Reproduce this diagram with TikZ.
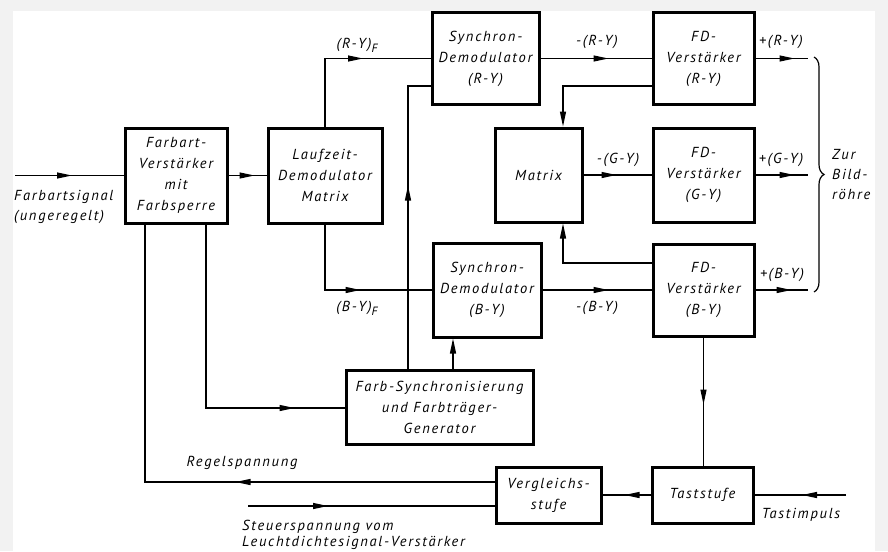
\documentclass[tikz,border=0pt]{standalone}
\usepackage{fontspec}
\setmainfont{PT Sans}[LetterSpace=12]
\usetikzlibrary{arrows.meta,decorations.markings,decorations.pathreplacing,calc}
\begin{document}
\begin{tikzpicture}[x=1pt,y=-1pt,
 blk/.style={draw,line width=3pt,inner sep=0pt,align=center,font=\itshape\fontsize{14.5}{21}\selectfont},
 lbl/.style={font=\itshape\fontsize{14.5}{18}\selectfont,inner sep=0pt},
 conn/.style={line width=1.2pt},
 tip/.style={-{Triangle[length=15pt,width=6pt]}},
 arr/.style={postaction={decorate},decoration={markings,mark=at position #1 with {\arrow{Triangle[length=15pt,width=6pt]}}}},
]
\useasboundingbox (0,0) rectangle (888,551);
\fill[black!5] (0,0) rectangle (888,551);
\fill[white] (13,11) rectangle (875,551);

% blocks
\node[blk,minimum width=102pt,minimum height=95pt] (farb) at (176,175.5) {Farbart-\\Verstärker\\mit\\Farbsperre};
\node[blk,minimum width=114pt,minimum height=95pt] (lauf) at (325,175.5) {Laufzeit-\\Demodulator\\Matrix};
\node[blk,minimum width=107pt,minimum height=91pt] (sdr) at (485.5,58.5) {Synchron-\\Demodulator\\(R-Y)};
\node[blk,minimum width=101pt,minimum height=91pt] (fdr) at (703.5,58.5) {FD-\\Verstärker\\(R-Y)};
\node[blk,minimum width=87pt,minimum height=94pt] (mat) at (538.5,175) {Matrix};
\node[blk,minimum width=101pt,minimum height=94pt] (fdg) at (703.5,175) {FD-\\Verstärker\\(G-Y)};
\node[blk,minimum width=108pt,minimum height=94pt] (sdb) at (487,290) {Synchron-\\Demodulator\\(B-Y)};
\node[blk,minimum width=101pt,minimum height=92pt] (fdb) at (703.5,290) {FD-\\Verstärker\\(B-Y)};
\node[blk,minimum width=187pt,minimum height=74pt] (fsync) at (439.5,407) {Farb-Synchronisierung\\und Farbträger-\\Generator};
\node[blk,minimum width=105pt,minimum height=56pt] (verg) at (548.5,495) {Vergleichs-\\stufe};
\node[blk,minimum width=101pt,minimum height=56pt] (tast) at (702.5,495) {Taststufe};

% free ends and junction points
\coordinate (in) at (15,175.5);
\coordinate (or) at (808,58.5);
\coordinate (og) at (808,175);
\coordinate (ob) at (808,290);
\coordinate (st) at (248,506);
\coordinate (ti) at (846,495);
\coordinate (fdrL) at ($(fdr.west)+(0,27.5)$);
\coordinate (matT) at ($(mat.north)+(24.5,0)$);
\coordinate (fdbL) at ($(fdb.west)+(0,-27)$);
\coordinate (matB) at ($(mat.south)+(24.5,0)$);
\coordinate (fsT1) at ($(fsync.north)+(-31.5,0)$);
\coordinate (sdrL) at ($(sdr.west)+(0,27.5)$);
\coordinate (fsT2) at ($(fsync.north)+(13.5,0)$);
\coordinate (fbB1) at ($(farb.south)+(-31,0)$);
\coordinate (fbB2) at ($(farb.south)+(30,0)$);
\coordinate (fsL) at ($(fsync.west)+(0,1)$);
\coordinate (vgL1) at ($(verg.west)+(0,-13)$);
\coordinate (vgL2) at ($(verg.west)+(0,11)$);

% connectors
\draw[conn,arr=57pt] (in) -- (farb.west);
\draw[conn,arr=26pt] (farb.east) -- (lauf.west);
\draw[conn,arr=106pt] (lauf.north) |- (sdr.west);
\draw[conn,arr=101pt] (lauf.south) |- (sdb.west);
\draw[conn,arr=68pt] (sdr.east) -- (fdr.west);
\draw[conn,arr=39pt] (fdr.east) -- (or);
\draw[conn,arr=33pt] (mat.east) -- (fdg.west);
\draw[conn,arr=39pt] (fdg.east) -- (og);
\draw[conn,arr=66pt] (sdb.east) -- (fdb.west);
\draw[conn,arr=36pt] (fdb.east) -- (ob);
\draw[conn,tip] (fdrL) -| (matT);
\draw[conn,tip] (fdbL) -| (matB);
\draw[conn,arr=183pt] (fsT1) |- (sdrL);
\draw[conn,tip] (fsT2) -- (fsT2 |- sdb.south);
\draw[conn,arr=272pt] (fbB2) |- (fsL);
\draw[conn,arr=259pt] (vgL1) -| (fbB1);
\draw[conn,arr=80pt] (st) -- (vgL2);
\draw[conn,arr=26pt] (tast.west) -- (verg.east);
\draw[conn,arr=44pt] (ti) -- (tast.east);
\draw[conn,arr=67pt] (fdb.south) -- (fdb.south |- tast.north);

% brace
\draw[conn,decorate,decoration={brace,amplitude=10pt}] (814,57) -- (814,292);

% labels
\node[lbl] (lry) at (357,45) {(R-Y)\raisebox{-4pt}{\fontsize{12}{12}\selectfont F}};
\node[lbl] (lby) at (357,308) {(B-Y)\raisebox{-4pt}{\fontsize{12}{12}\selectfont F}};
\node[lbl] (mry) at (597,42) {-(R-Y)};
\node[lbl] (pry) at (781,42) {+(R-Y)};
\node[lbl] (mgy) at (618,160) {-(G-Y)};
\node[lbl] (pgy) at (781,160) {+(G-Y)};
\node[lbl] (mby) at (597,308) {-(B-Y)};
\node[lbl] (pby) at (782,275) {+(B-Y)};
\node[lbl,align=left,anchor=west,font=\itshape\fontsize{14.5}{20}\selectfont] (zur) at (832,175) {Zur\\Bild-\\röhre};
\node[lbl,align=left,anchor=west,font=\itshape\fontsize{14.5}{20}\selectfont] (fsig) at (14,207) {Farbartsignal\\(ungeregelt)};
\node[lbl] (regel) at (242,463) {Regelspannung};
\node[lbl,align=left,anchor=west,font=\itshape\fontsize{14.5}{16}\selectfont] (steu) at (242,535) {Steuerspannung vom\\Leuchtdichtesignal-Verstärker};
\node[lbl] (timp) at (801,515) {Tastimpuls};
\end{tikzpicture}
\end{document}
